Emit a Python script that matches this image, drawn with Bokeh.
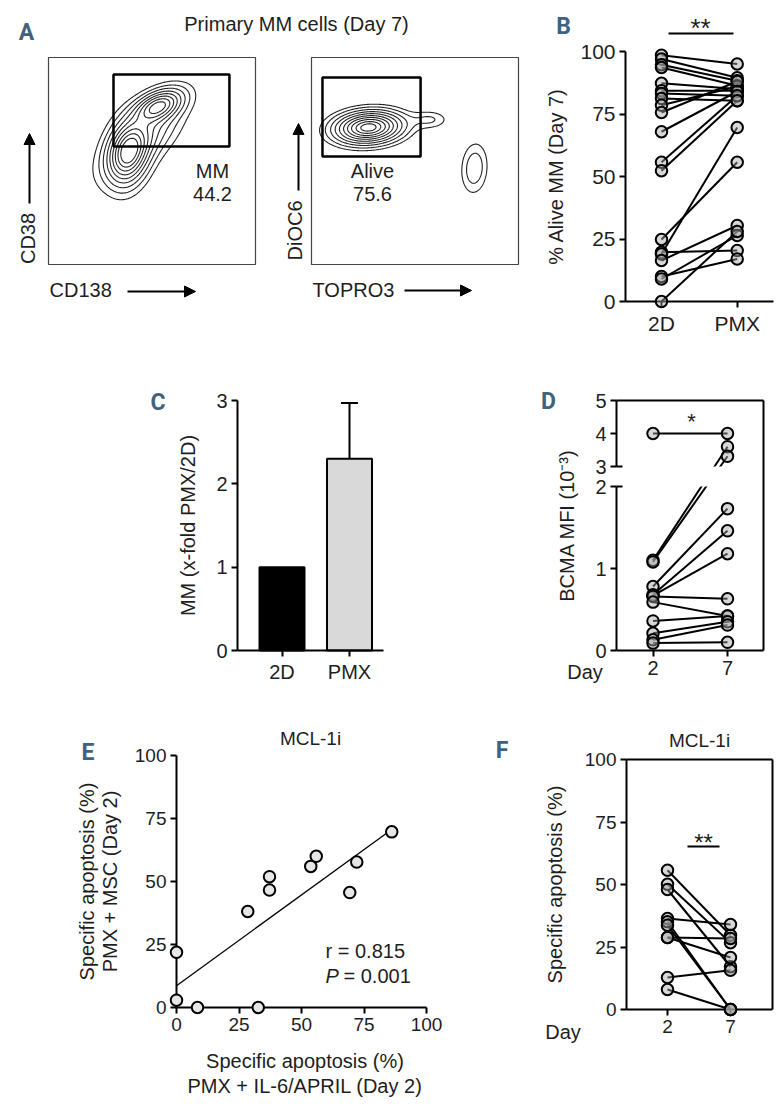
import numpy as np
from bokeh.plotting import figure
from bokeh.layouts import row, column
from bokeh.models import Label, Arrow, NormalHead, LinearAxis, FixedTicker, Range1d
from bokeh.embed import file_html
from bokeh.resources import INLINE

FONT = "Liberation Sans"
LFONT = "Roboto"
LCOLOR = "#41627f"
INK = "#1e1e1e"
PT_FILL = "#a6a6a6"

# ---------------- data ----------------
# Panel A: flow cytometry density models (arbitrary fluorescence units)
a_title = "Primary MM cells (Day 7)"
flow_range = [0, 1000]
f1_mu_x = [385, 530, 450]
f1_mu_y = [540, 765, 610]
f1_sd_x = [58, 70, 110]
f1_sd_y = [92, 48, 110]
f1_rho = [0.2, 0.45, 0.65]
f1_w = [1.0, 0.9, 0.4]
f1_levels = [0.04, 0.09, 0.16, 0.25, 0.35, 0.46, 0.58, 0.70, 0.82]
f1_gate = [314, 874, 570, 918]          # left, right, bottom, top
f1_gate_name, f1_gate_pct = "MM", "44.2"
f1_xlabel, f1_ylabel = "CD138", "CD38"

f2_mu_x = [275, 575, 787]
f2_mu_y = [662, 700, 465]
f2_sd_x = [105, 60, 45]
f2_sd_y = [50, 30, 86]
f2_rho = [0.12, 0.0, 0.1]
f2_w = [1.0, 0.14, 0.2]
f2_levels = [0.08, 0.14, 0.22, 0.31, 0.41, 0.52, 0.63, 0.74, 0.85, 0.94]
f2_gate = [53, 527, 522, 903]
f2_gate_name, f2_gate_pct = "Alive", "75.6"
f2_xlabel, f2_ylabel = "TOPRO3", "DiOC6"

# Panel B: % alive MM (day 7), paired 2D vs PMX
b_groups = ["2D", "PMX"]
b_2d = [98.5, 97.0, 94.7, 93.6, 87.3, 84.3, 83.2, 81.2, 78.5, 75.6, 67.9, 55.7, 52.3, 24.8, 19.7, 19.0, 16.4, 10.0, 9.0, 0.0]
b_pmx = [95.0, 89.5, 88.3, 86.3, 85.0, 84.3, 82.3, 80.3, 86.0, 88.0, 84.0, 82.3, 80.3, 55.7, 20.4, 69.6, 30.4, 17.0, 26.4, 28.0]
b_ylabel = "% Alive MM (Day 7)"
b_ticks = [0, 25, 50, 75, 100]

# Panel C: x-fold PMX/2D
c_groups = ["2D", "PMX"]
c_mean = [1.0, 2.3]
c_err = [0.0, 0.67]
c_colors = ["black", "#d9d9d9"]
c_ylabel = "MM (x-fold PMX/2D)"
c_ticks = [0, 1, 2, 3]

# Panel D: BCMA MFI (x10^-3), day 2 vs day 7 (broken axis)
d_days = ["2", "7"]
d_day2 = [4.0, 1.10, 1.08, 0.78, 0.68, 0.67, 0.66, 0.59, 0.36, 0.21, 0.13, 0.09]
d_day7 = [4.0, 3.60, 3.31, 1.73, 1.46, 1.18, 0.63, 0.42, 0.42, 0.35, 0.31, 0.10]
d_ticks = [0, 1, 2, 3, 4, 5]
d_ylabel = "BCMA MFI (10\u207b\u00b3)"

# Panel E: correlation
e_x = [0.0, 0.0, 8.4, 32.7, 28.5, 37.2, 37.2, 53.7, 55.9, 69.3, 72.1, 86.1]
e_y = [21.9, 2.9, 0.0, 0.0, 38.1, 46.6, 51.9, 56.0, 60.0, 45.6, 57.7, 69.7]
e_ticks = [0, 25, 50, 75, 100]
e_r_text = "r = 0.815"
e_p_text = "= 0.001"

# Panel F: specific apoptosis day 2 vs day 7
f_days = ["2", "7"]
f_day2 = [55.7, 50.1, 48.0, 36.4, 35.1, 33.7, 28.8, 28.8, 12.8, 8.0]
f_day7 = [29.7, 26.7, 17.1, 34.0, 0.0, 0.0, 28.4, 20.8, 15.7, 0.0]
f_ticks = [0, 25, 50, 75, 100]
mcl_title = "MCL-1i"
apop_label = "Specific apoptosis (%)"


# ---------------- helpers ----------------
def lin(d0, p0, d1, p1):
    k = (d1 - d0) / (p1 - p0)
    return lambda px: d0 + (px - p0) * k


class Frame:
    """Canvas of a figure (page px) and the linear map page px -> data."""
    def __init__(self, cx, cy, w, h, fx, fy):
        self.cx, self.cy, self.w, self.h = cx, cy, w, h
        self.fx, self.fy = fx, fy
        self.xr = (fx(cx), fx(cx + w))
        self.yr = (fy(cy + h), fy(cy))

    def d(self, px, py):
        return self.fx(px), self.fy(py)

    def dx(self, npx):
        return self.fx(npx) - self.fx(0)


def make_fig(fr):
    p = figure(width=fr.w, height=fr.h,
               x_range=Range1d(*fr.xr), y_range=Range1d(*fr.yr),
               x_axis_type=None, y_axis_type=None,
               output_backend="svg", toolbar_location=None,
               min_border=0, min_border_left=0, min_border_right=0,
               min_border_top=0, min_border_bottom=0)
    p.grid.visible = False
    p.outline_line_color = None
    p.background_fill_color = "white"
    p.border_fill_color = "white"
    return p


def add_axis(p, side, loc, ticks, bounds, fs, overrides=None, label=None,
             label_standoff=10, line=True, tick_out=6):
    ax = LinearAxis(fixed_location=loc, ticker=FixedTicker(ticks=ticks), bounds=bounds)
    ax.axis_line_width = 2
    ax.axis_line_color = "black" if line else None
    ax.major_tick_line_width = 2
    ax.major_tick_line_color = "black"
    ax.major_tick_out = tick_out
    ax.major_tick_in = 0
    ax.minor_tick_line_color = None
    ax.major_label_text_font = FONT
    ax.major_label_text_font_size = f"{fs}px"
    ax.major_label_text_color = INK
    ax.major_label_standoff = 4
    if overrides:
        ax.major_label_overrides = overrides
    if label:
        ax.axis_label = label
        ax.axis_label_text_font = FONT
        ax.axis_label_text_font_size = "20px"
        ax.axis_label_text_font_style = "normal"
        ax.axis_label_text_color = INK
        ax.axis_label_standoff = label_standoff
    p.add_layout(ax, side)
    return ax


def text(p, fr, px, py, s, size=20, align="center", baseline="middle", angle=0,
         style="normal", color=INK, font=FONT):
    x, y = fr.d(px, py)
    p.add_layout(Label(x=x, y=y, text=s, text_font=font, text_font_size=f"{size}px",
                       text_align=align, text_baseline=baseline, angle=angle,
                       text_color=color, text_font_style=style))


def letter(p, fr, px, py, s):
    text(p, fr, px, py, s, size=23, style="bold", color=LCOLOR, font=LFONT)


def arrow(p, fr, p0, p1):
    x0, y0 = fr.d(*p0)
    x1, y1 = fr.d(*p1)
    p.add_layout(Arrow(end=NormalHead(size=11, fill_color="black", line_color="black", line_width=1),
                       x_start=x0, y_start=y0, x_end=x1, y_end=y1,
                       line_color="black", line_width=2))


def density(mx, my, sx, sy, rho, w, grid):
    X, Y = np.meshgrid(grid, grid)
    Z = np.zeros_like(X)
    for a, b, c, d, r, ww in zip(mx, my, sx, sy, rho, w):
        u = (X - a) / c
        v = (Y - b) / d
        q = (u * u - 2 * r * u * v + v * v) / (1 - r * r)
        Z += ww * np.exp(-0.5 * q)
    return Z / Z.max()


def paired(p, x1, x2, ya, yb):
    n = len(ya)
    p.segment([x1] * n, ya, [x2] * n, yb, line_color="black", line_width=2)


def points(p, xs, ys, size=11.5, fill=PT_FILL, alpha=0.45):
    r = p.scatter(xs, ys, marker="circle", size=size, fill_color=fill, fill_alpha=alpha,
                  line_color="black", line_width=2)
    r.level = "overlay"
    return r


def seg(p, x0, y0, x1, y1, w=2):
    p.segment([x0], [y0], [x1], [y1], line_color="black", line_width=w)


# ---------------- Panel A ----------------
fT = Frame(0, 0, 543, 48, lin(0, 0, 1, 1), lin(0, 0, 1, -1))
pT = make_fig(fT)
text(pT, fT, 296, 23, a_title, size=20)
letter(pT, fT, 26, 32, "A")
pT.scatter([0], [0], size=0, alpha=0)

grid = np.linspace(flow_range[0], flow_range[1], 241)


def flow_panel(fr, mx, my, sx, sy, rho, w, levels, gate):
    p = make_fig(fr)
    Z = density(mx, my, sx, sy, rho, w, grid)
    p.contour(x=grid, y=grid, z=Z, levels=levels, line_color="#222222", line_width=1.1)
    p.quad(left=[flow_range[0]], right=[flow_range[1]], bottom=[flow_range[0]], top=[flow_range[1]],
           fill_color=None, line_color="#444444", line_width=1.2)
    p.quad(left=[gate[0]], right=[gate[1]], bottom=[gate[2]], top=[gate[3]],
           fill_color=None, line_color="black", line_width=2.5)
    return p


fA1 = Frame(0, 48, 283, 302, lin(0, 48, 1000, 255), lin(0, 264, 1000, 57))
pA1 = flow_panel(fA1, f1_mu_x, f1_mu_y, f1_sd_x, f1_sd_y, f1_rho, f1_w, f1_levels, f1_gate)
text(pA1, fA1, 212, 170, f1_gate_name)
text(pA1, fA1, 212, 193, f1_gate_pct)
text(pA1, fA1, 27.5, 238, f1_ylabel, angle=np.pi / 2)
arrow(pA1, fA1, (29, 203), (29, 133))
text(pA1, fA1, 49, 289, f1_xlabel, align="left")
arrow(pA1, fA1, (127, 291), (195, 291))

fA2 = Frame(283, 48, 260, 302, lin(0, 311, 1000, 518), lin(0, 264, 1000, 57))
pA2 = flow_panel(fA2, f2_mu_x, f2_mu_y, f2_sd_x, f2_sd_y, f2_rho, f2_w, f2_levels, f2_gate)
text(pA2, fA2, 372, 170, f2_gate_name)
text(pA2, fA2, 372, 193, f2_gate_pct)
text(pA2, fA2, 294.5, 230, f2_ylabel, angle=np.pi / 2)
arrow(pA2, fA2, (298, 190), (298, 123))
text(pA2, fA2, 312, 289, f2_xlabel, align="left")
arrow(pA2, fA2, (404, 290), (471, 290))

# ---------------- Panel B ----------------
fB = Frame(543, 0, 241, 350, lin(1, 661, 2, 736.7), lin(0, 301, 100, 51))
pB = make_fig(fB)
bxa, bxb = fB.fx(625), fB.fx(773)
add_axis(pB, "below", 0, [1, 2], (bxa, bxb), 21, overrides={1: b_groups[0], 2: b_groups[1]})
add_axis(pB, "left", bxa, b_ticks, (0, 100), 21, label=b_ylabel, label_standoff=10)
paired(pB, 1, 2, b_2d, b_pmx)
points(pB, [1] * len(b_2d) + [2] * len(b_pmx), b_2d + b_pmx)
seg(pB, fB.fx(668), fB.fy(33), fB.fx(733), fB.fy(33))
text(pB, fB, 700, 27.5, "**", size=26)
letter(pB, fB, 563, 26, "B")

# ---------------- Panel C ----------------
fC = Frame(0, 350, 540, 350, lin(1, 281.5, 2, 349), lin(0, 650, 3, 400))
pC = make_fig(fC)
cxa, cxb = fC.fx(237), fC.fx(383)
cx = [1, 2]
pC.vbar(x=cx, top=c_mean, width=fC.dx(45), fill_color=c_colors, line_color="black", line_width=2)
ex = [x for x, e in zip(cx, c_err) if e > 0]
eb = [m for m, e in zip(c_mean, c_err) if e > 0]
et = [m + e for m, e in zip(c_mean, c_err) if e > 0]
cap = fC.dx(8.5)
pC.segment(ex, eb, ex, et, line_color="black", line_width=2)
pC.segment([x - cap for x in ex], et, [x + cap for x in ex], et, line_color="black", line_width=2)
add_axis(pC, "below", 0, [1, 2], (cxa, cxb), 20, overrides={1: c_groups[0], 2: c_groups[1]})
add_axis(pC, "left", cxa, c_ticks, (0, 3), 20, label=c_ylabel, label_standoff=14)
letter(pC, fC, 157.5, 402, "C")


# ---------------- Panel D ----------------
def dpos(v):
    return v * 82 if v <= 2 else 184 + (v - 3) * 33


fD = Frame(540, 350, 244, 350, lin(1, 652.5, 2, 727), lin(0, 650, 250, 400))
pD = make_fig(fD)
dxa, dxb = fD.fx(616), fD.fx(763)
dtp = [dpos(v) for v in d_ticks]
add_axis(pD, "below", 0, [1, 2], (dxa, dxb), 20, overrides={1: d_days[0], 2: d_days[1]})
add_axis(pD, "left", dxa, dtp, (0, dpos(5)), 20,
         overrides={t: str(v) for t, v in zip(dtp, d_ticks)},
         label=d_ylabel, label_standoff=14, line=False)
paired(pD, 1, 2, [dpos(v) for v in d_day2], [dpos(v) for v in d_day7])
gap_lo, gap_hi = dpos(2), dpos(3)
pD.quad(left=[dxa], right=[dxb], bottom=[gap_lo], top=[gap_hi], fill_color="white", line_color=None)
seg(pD, dxa, 0, dxa, gap_lo)
seg(pD, dxa, gap_hi, dxa, dpos(5))
seg(pD, dxa, gap_lo, dxa + fD.dx(6), gap_lo)
seg(pD, dxa, gap_hi, dxa + fD.dx(6), gap_hi)
seg(pD, dxa, dpos(5), dxb, dpos(5))
seg(pD, dxb, 0, dxb, dpos(5))
points(pD, [1] * len(d_day2) + [2] * len(d_day7), [dpos(v) for v in d_day2 + d_day7])
text(pD, fD, 691, 420.5, "*", size=22)
text(pD, fD, 584.5, 671, "Day", size=20)
letter(pD, fD, 548, 401, "D")

# ---------------- Panel E ----------------
fE = Frame(0, 700, 450, 413, lin(0, 176, 100, 426), lin(0, 1007, 100, 755))
pE = make_fig(fE)
add_axis(pE, "below", 0, e_ticks, (0, 100), 19)
add_axis(pE, "left", 0, e_ticks, (0, 100), 19)
slope, icpt = np.polyfit(e_x, e_y, 1)
lx = [0.0, max(e_x)]
pE.line(lx, [icpt + slope * v for v in lx], line_color="black", line_width=1.3)
points(pE, e_x, e_y, fill="#e6e6e6", alpha=1.0)
text(pE, fE, 310, 738, mcl_title, size=19)
text(pE, fE, 86.5, 881, apop_label, angle=np.pi / 2)
text(pE, fE, 109, 881, "PMX + MSC (Day 2)", angle=np.pi / 2)
text(pE, fE, 304.5, 1060, apop_label)
text(pE, fE, 304.5, 1085, "PMX + IL-6/APRIL (Day 2)")
text(pE, fE, 325, 950.5, e_r_text, align="left")
text(pE, fE, 325, 975.5, "P", align="left", style="italic")
text(pE, fE, 343, 975.5, e_p_text, align="left")
letter(pE, fE, 87.5, 752, "E")

# ---------------- Panel F ----------------
fF = Frame(450, 700, 334, 413, lin(1, 667, 2, 730), lin(0, 1009, 100, 759))
pF = make_fig(fF)
fxa, fxb = fF.fx(626), fF.fx(772)
add_axis(pF, "below", 0, [1, 2], (fxa, fxb), 19, overrides={1: f_days[0], 2: f_days[1]})
add_axis(pF, "left", fxa, f_ticks, (0, 100), 19, label=apop_label, label_standoff=16)
seg(pF, fxa, 100, fxb, 100)
seg(pF, fxb, 0, fxb, 100)
paired(pF, 1, 2, f_day2, f_day7)
points(pF, [1] * len(f_day2) + [2] * len(f_day7), f_day2 + f_day7)
seg(pF, fF.fx(687), fF.fy(846), fF.fx(719), fF.fy(846))
text(pF, fF, 703, 841.5, "**", size=24)
text(pF, fF, 699, 740, mcl_title, size=19)
text(pF, fF, 562.5, 1031, "Day", size=20)
letter(pF, fF, 501.5, 750, "F")

layout = column(
    row(column(pT, row(pA1, pA2)), pB),
    row(pC, pD),
    row(pE, pF),
)

open("out.html", "w").write(file_html(layout, INLINE))
